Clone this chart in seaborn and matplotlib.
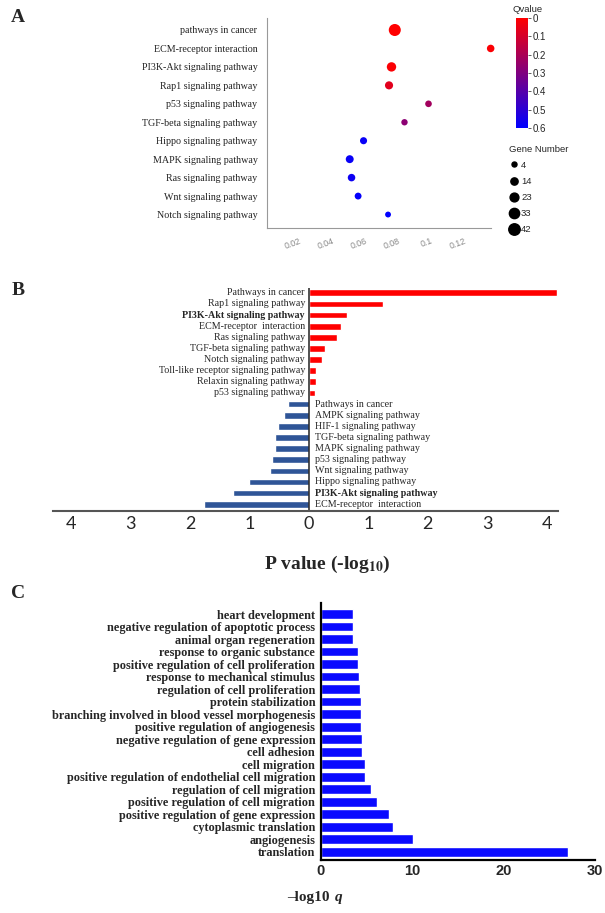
import matplotlib
matplotlib.use('Agg')
import matplotlib.pyplot as plt
import seaborn as sns
import pandas as pd
import numpy as np
from matplotlib.colors import LinearSegmentedColormap, Normalize
from matplotlib.cm import ScalarMappable
from matplotlib.lines import Line2D

# ---- Panel A: KEGG bubble plot ----
kegg_terms = ['pathways in cancer', 'ECM-receptor interaction', 'PI3K-Akt signaling pathway',
              'Rap1 signaling pathway', 'p53 signaling pathway', 'TGF-beta signaling pathway',
              'Hippo signaling pathway', 'MAPK signaling pathway', 'Ras signaling pathway',
              'Wnt signaling pathway', 'Notch signaling pathway']
kegg_ratio = [0.078, 0.1363, 0.076, 0.0745, 0.0985, 0.0839, 0.059, 0.0506, 0.0517, 0.0557, 0.0739]
kegg_qvalue = [0.0, 0.01, 0.01, 0.07, 0.22, 0.27, 0.58, 0.58, 0.57, 0.59, 0.6]
kegg_genes = [42, 14, 24, 17, 10, 9, 12, 16, 14, 11, 7]
size_legend = [4, 14, 23, 33, 42]
q_ticks = [0, 0.1, 0.2, 0.3, 0.4, 0.5, 0.6]
ratio_ticks = [0.02, 0.04, 0.06, 0.08, 0.1, 0.12]
ratio_labels = ['0.02', '0.04', '0.06', '0.08', '0.1', '0.12']

# ---- Panel B: up / down pathways ----
up_terms = ['Pathways in cancer', 'Rap1 signaling pathway', 'PI3K-Akt signaling pathway',
            'ECM-receptor  interaction', 'Ras signaling pathway', 'TGF-beta signaling pathway',
            'Notch signaling pathway', 'Toll-like receptor signaling pathway',
            'Relaxin signaling pathway', 'p53 signaling pathway']
up_values = [4.17, 1.24, 0.635, 0.54, 0.466, 0.264, 0.21, 0.113, 0.113, 0.096]
down_terms = ['Pathways in cancer', 'AMPK signaling pathway', 'HIF-1 signaling pathway',
              'TGF-beta signaling pathway', 'MAPK signaling pathway', 'p53 signaling pathway',
              'Wnt signaling pathway', 'Hippo signaling pathway', 'PI3K-Akt signaling pathway',
              'ECM-receptor  interaction']
down_values = [-0.35, -0.415, -0.53, -0.567, -0.567, -0.62, -0.66, -1.015, -1.28, -1.77]
bold_terms = ['PI3K-Akt signaling pathway']
pval_ticks = [-4, -3, -2, -1, 0, 1, 2, 3, 4]

# ---- Panel C: GO terms ----
go_terms = ['heart development', 'negative regulation of apoptotic process',
            'animal organ regeneration', 'response to organic substance',
            'positive regulation of cell proliferation', 'response to mechanical stimulus',
            'regulation of cell proliferation', 'protein stabilization',
            'branching involved in blood vessel morphogenesis',
            'positive regulation of angiogenesis', 'negative regulation of gene expression',
            'cell adhesion', 'cell migration',
            'positive regulation of endothelial cell migration', 'regulation of cell migration',
            'positive regulation of cell migration', 'positive regulation of gene expression',
            'cytoplasmic translation', 'angiogenesis', 'translation']
go_values = [3.5, 3.5, 3.57, 4.1, 4.1, 4.2, 4.27, 4.42, 4.42, 4.45, 4.56, 4.56,
             4.8, 4.88, 5.47, 6.16, 7.44, 7.95, 10.1, 27.1]
go_ticks = [0, 10, 20, 30]

sns.set_style('white')
plt.rcParams['mathtext.fontset'] = 'stix'
SERIF = 'Liberation Serif'
SANS = 'Liberation Sans'

W, H = 605, 913
fig = plt.figure(figsize=(W / 100, H / 100), dpi=100)


def rect(l, t, r, b):
    return [l / W, 1 - b / H, (r - l) / W, (b - t) / H]


def area(g):
    return 13 + (g - 4) / 38 * 55


# Panel A
axA = fig.add_axes(rect(266.5, 18, 491, 228))
cmap = LinearSegmentedColormap.from_list('qv', ['#ff0000', '#0000ff'])
norm = Normalize(0, 0.6)
dfA = pd.DataFrame({'term': kegg_terms, 'ratio': kegg_ratio, 'q': kegg_qvalue, 'genes': kegg_genes})
sns.scatterplot(data=dfA, x='ratio', y='term', hue='q', size='genes', palette=cmap,
                hue_norm=norm, sizes=(13, 75), size_norm=(4, 42), linewidth=0,
                legend=False, clip_on=False, ax=axA)
axA.set_xlim(0, 0.1365)
axA.set_ylim(10.73, -0.65)
axA.set_xticks([0] + ratio_ticks + [0.1365])
axA.set_xticklabels([''] + ratio_labels + [''], rotation=20, ha='right',
                    rotation_mode='anchor', fontsize=6.3, color='#888888', family=SANS)
axA.set_yticks(range(len(kegg_terms)))
axA.set_yticklabels(kegg_terms, fontsize=7.2, family=SERIF, color='#222222')
axA.set_xlabel('')
axA.set_ylabel('')
for s in ['top', 'right']:
    axA.spines[s].set_visible(False)
for s in ['left', 'bottom']:
    axA.spines[s].set_color('#999999')
    axA.spines[s].set_linewidth(0.8)
axA.tick_params(axis='both', length=3, width=0.7, color='#999999', direction='out')
axA.tick_params(axis='x', pad=3)

cax = fig.add_axes(rect(516, 18, 528, 128))
cb = fig.colorbar(ScalarMappable(norm=norm, cmap=cmap), cax=cax)
cax.invert_yaxis()
cb.set_ticks(q_ticks)
cb.set_ticklabels([f'{t:g}' for t in q_ticks])
cb.outline.set_visible(False)
cax.tick_params(length=2, width=0.6, labelsize=7, pad=1.5, color='#444444')
for lab in cax.get_yticklabels():
    lab.set_family(SANS)
fig.text(528 / W, 1 - 9 / H, 'Qvalue', ha='center', va='center', fontsize=6.8, family=SANS)

handles = [Line2D([], [], marker='o', linestyle='none', color='black',
                  markersize=np.sqrt(area(g))) for g in size_legend]
leg = fig.legend(handles, [str(g) for g in size_legend], title='Gene Number',
                 loc='upper left', bbox_to_anchor=(504 / W, 1 - 140 / H), frameon=False,
                 handletextpad=0.1, labelspacing=0.75, borderpad=0, handlelength=1.2,
                 alignment='left', title_fontsize=6.8, prop={'family': SANS, 'size': 6.8})
leg.get_title().set_family(SANS)

# Panel B
axB = fig.add_axes(rect(53, 288, 558, 510.7))
dfB = pd.DataFrame({'key': [f'r{i}' for i in range(20)],
                    'value': up_values + down_values,
                    'direction': ['up'] * len(up_values) + ['down'] * len(down_values)})
sns.barplot(data=dfB, x='value', y='key', hue='direction', dodge=False, orient='h',
            palette={'up': '#ff0000', 'down': '#2f5597'}, saturation=1, width=0.6,
            errorbar=None, legend=False, ax=axB)
axB.set_xlim(-4.31, 4.19)
axB.set_ylim(19.58, -0.43)
axB.set_yticks([])
axB.set_ylabel('')
axB.set_xlabel('')
axB.axvline(0, color='#222222', lw=1.1)
for s in ['top', 'right', 'left']:
    axB.spines[s].set_visible(False)
axB.spines['bottom'].set_color('#555555')
axB.spines['bottom'].set_linewidth(1.5)
axB.set_xticks(pval_ticks)
axB.set_xticklabels([str(abs(t)) for t in pval_ticks], fontsize=13, family='Lato')
axB.tick_params(axis='x', length=0, pad=4)
for i, term in enumerate(up_terms):
    axB.text(-0.07, i, term, ha='right', va='center', fontsize=7.2, family=SERIF,
             weight='bold' if term in bold_terms else 'normal')
for i, term in enumerate(down_terms):
    axB.text(0.1, len(up_terms) + i, term, ha='left', va='center', fontsize=7.2, family=SERIF,
             weight='bold' if term in bold_terms else 'normal')
fig.text(327.5 / W, 1 - 564 / H, r'P value (-log$_{\mathbf{10}}$)', ha='center', va='center',
         fontsize=14, weight='bold', family=SERIF)

# Panel C
axC = fig.add_axes(rect(320.7, 603, 595, 860))
dfC = pd.DataFrame({'term': go_terms, 'value': go_values})
sns.barplot(data=dfC, x='value', y='term', color='#0a0aff', saturation=1, width=0.78,
            errorbar=None, ax=axC)
axC.set_xlim(0, 30)
axC.set_ylim(19.66, -0.88)
axC.set_xlabel('')
axC.set_ylabel('')
for s in ['top', 'right']:
    axC.spines[s].set_visible(False)
for s in ['left', 'bottom']:
    axC.spines[s].set_color('black')
    axC.spines[s].set_linewidth(1.6)
axC.set_xticks(go_ticks)
axC.set_xticklabels([str(t) for t in go_ticks], fontsize=10.5, weight='bold', family=SANS)
axC.set_yticks(range(len(go_terms)))
axC.set_yticklabels(go_terms, fontsize=8.8, weight='bold', family=SERIF)
axC.tick_params(axis='y', length=3, width=1.3, pad=1)
axC.tick_params(axis='x', length=2.5, width=1.3, pad=0.5)
fig.text(330 / W, 1 - 897 / H, '\u2013log10', ha='right', va='center', fontsize=11,
         weight='bold', family=SERIF)
fig.text(335 / W, 1 - 897 / H, 'q', ha='left', va='center', fontsize=11,
         weight='bold', style='italic', family=SERIF)

# Panel letters
for letter, (x, y) in zip(['A', 'B', 'C'], [(18, 17), (18, 290), (18, 593)]):
    fig.text(x / W, 1 - y / H, letter, ha='center', va='center', fontsize=14,
             weight='bold', family=SERIF)

fig.savefig('out.png', dpi=100)
